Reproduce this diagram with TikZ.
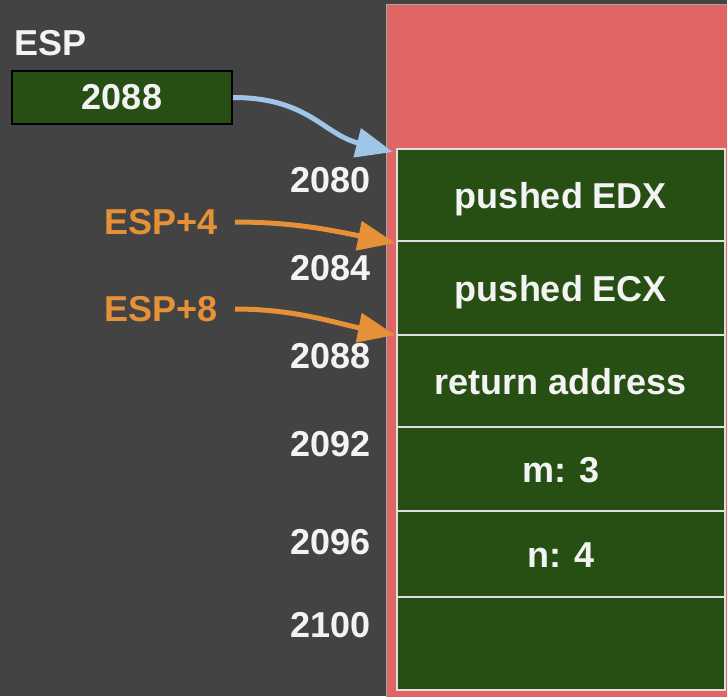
\documentclass[tikz,border=0pt]{standalone}
\usepackage{fontspec}
\setmainfont{Liberation Sans}
\usetikzlibrary{positioning,arrows.meta}
\definecolor{bgdark}{HTML}{434343}
\definecolor{stackred}{HTML}{E06666}
\definecolor{cellgreen}{HTML}{274E13}
\definecolor{txtwhite}{HTML}{F3F3F3}
\definecolor{ptrblue}{HTML}{9FC5E8}
\definecolor{ptrorange}{HTML}{E69138}

\begin{document}
\begin{tikzpicture}[x=1pt,y=-1pt,
  every node/.style={font=\fontsize{36}{40}\selectfont\bfseries,text=txtwhite},
  cell/.style={draw=gray!25,line width=1.5pt,fill=cellgreen,minimum width=328pt,inner sep=0pt,outer sep=0pt,
    text height=26pt,text depth=0pt,anchor=north},
  addr/.style={anchor=east,inner sep=0pt},
  ptr/.style={line width=5pt,-{Triangle[length=37pt,width=29pt]}}]
\useasboundingbox (0,0) rectangle (727,696);
% background and stack area
\fill[bgdark] (0,0) rectangle (727,696);
\begin{scope}
\clip (0,0) rectangle (727,696);
\filldraw[fill=stackred,draw=gray!70,line width=1pt] (386,4) rectangle (730,700);
\end{scope}
% stack cells
\node[cell,minimum height=92pt] (c1) at (561,149) {pushed EDX};
\node[cell,minimum height=94pt] (c2) [below=0pt of c1] {pushed ECX};
\node[cell,minimum height=92pt] (c3) [below=0pt of c2] {return address};
\node[cell,minimum height=84pt] (c4) [below=0pt of c3] {m: 3};
\node[cell,minimum height=86pt] (c5) [below=0pt of c4] {n: 4};
\node[cell,minimum height=93pt] (c6) [below=0pt of c5] {};
% addresses
\node[addr] (a2080) at (371,180) {2080};
\node[addr] (a2084) at (371,268) {2084};
\node[addr] (a2088) at (371,356) {2088};
\node[addr] (a2092) at (371,444) {2092};
\node[addr] (a2096) at (371,542) {2096};
\node[addr] (a2100) at (371,625) {2100};
% register and offsets
\node[anchor=west,inner sep=0pt] (esp) at (14,43) {ESP};
\node[draw=black,line width=2pt,fill=cellgreen,minimum width=220pt,minimum height=53pt] (espval) at (122,97.5) {2088};
\node[anchor=east,inner sep=0pt,text=ptrorange] (off4) at (218,222) {ESP+4};
\node[anchor=east,inner sep=0pt,text=ptrorange] (off8) at (218,309) {ESP+8};
% the arrows
\coordinate (t0) at ([xshift=-4pt,yshift=-3pt]c1.north west);
\coordinate (t4) at ([xshift=-2pt,yshift=-2pt]c2.north west);
\coordinate (t8) at ([xshift=-2pt]c3.north west);
\draw[ptr,ptrblue] (espval.east) .. controls +(75,0) and +(-70,-18) .. (t0);
\draw[ptr,ptrorange] ([xshift=17pt]off4.east) .. controls +(60,0) and +(-60,-12) .. (t4);
\draw[ptr,ptrorange] ([xshift=17pt]off8.east) .. controls +(60,0) and +(-60,-12) .. (t8);
\end{tikzpicture}
\end{document}
